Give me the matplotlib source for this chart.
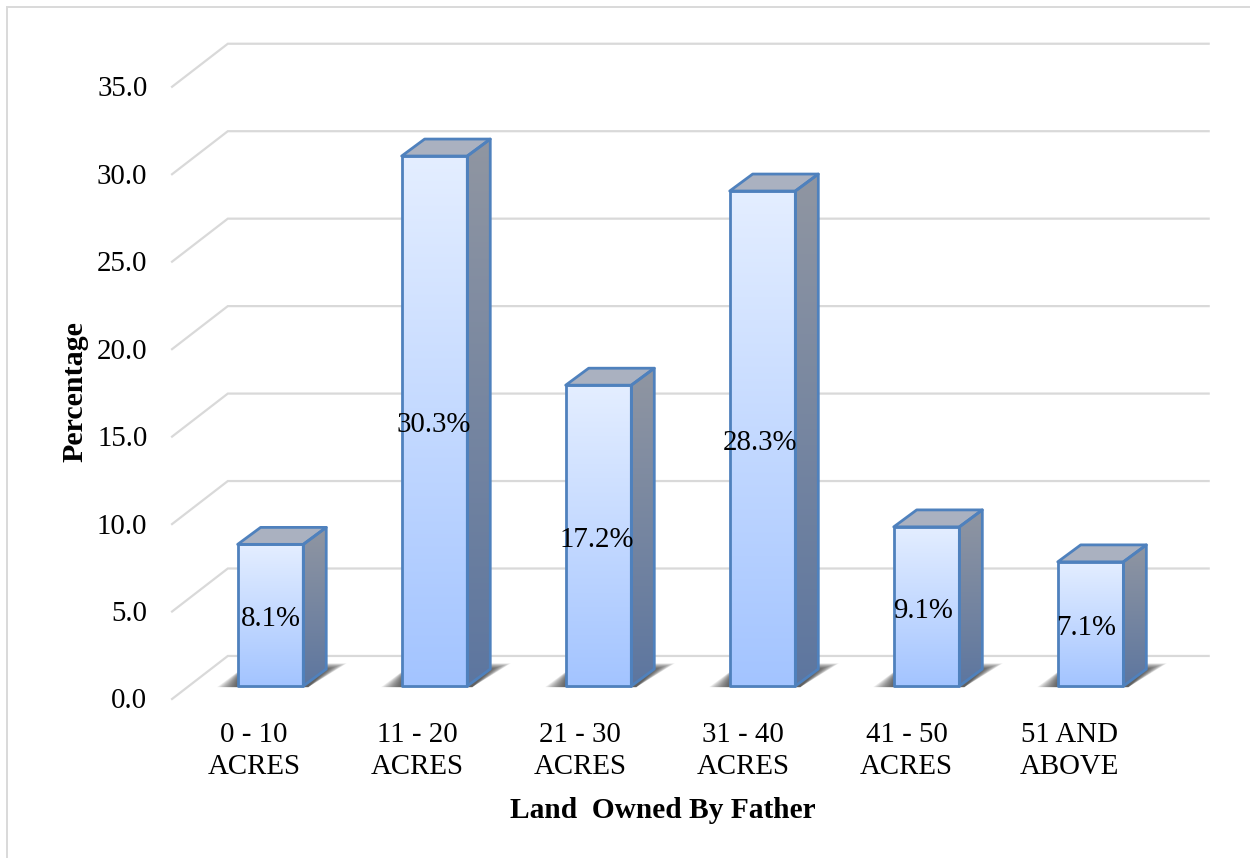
import numpy as np
import matplotlib
matplotlib.use('Agg')
import matplotlib.pyplot as plt
from matplotlib.colors import LinearSegmentedColormap
from matplotlib.lines import Line2D
from matplotlib.patches import Polygon

categories = ['0 - 10\nACRES', '11 - 20\nACRES', '21 - 30\nACRES',
              '31 - 40\nACRES', '41 - 50\nACRES', '51 AND\nABOVE']
percentages = [8.1, 30.3, 17.2, 28.3, 9.1, 7.1]
y_ticks = [0, 5, 10, 15, 20, 25, 30, 35]

plt.rcParams['font.family'] = ['Liberation Serif', 'DejaVu Serif']

# box sizes, in data units (one category = 164 px, one percent = 17.49 px)
BAR_W = 0.40
DX, DY = 0.14, 0.97
FLOOR_FRONT, FLOOR_BACK = -0.74, 1.72
WALL_LEFT, WALL_RIGHT, WALL_X_FRONT = -0.26, 5.72, -0.60
TEXT_STEP = 0.9945

EDGE = '#4f81bd'
GRID = '#d9d9d9'

face_cmap = LinearSegmentedColormap.from_list('face', ['#e4eeff', '#a3c4ff'])
side_cmap = LinearSegmentedColormap.from_list('side', ['#9096a2', '#5d769f'])

fig = plt.figure(figsize=(12.5, 8.58), dpi=100)
ax = fig.add_axes([0, 0, 1, 1])
ax.axis('off')


def gradient_fill(points, cmap, zorder):
    # vertical gradient clipped to a polygon
    xs = [p[0] for p in points]
    ys = [p[1] for p in points]
    grad = np.linspace(0, 1, 256).reshape(-1, 1)
    im = ax.imshow(grad, cmap=cmap, aspect='auto', origin='upper', zorder=zorder,
                   extent=[min(xs), max(xs), min(ys), max(ys)], interpolation='bilinear')
    clip = Polygon(points, closed=True, transform=ax.transData, facecolor='none', edgecolor='none')
    ax.add_patch(clip)
    im.set_clip_path(clip)


# back wall and floor lines
for v in y_ticks:
    ax.plot([WALL_X_FRONT, WALL_LEFT, WALL_RIGHT],
            [v + FLOOR_FRONT, v + FLOOR_BACK, v + FLOOR_BACK],
            color=GRID, lw=1.6, zorder=1, solid_joinstyle='miter')
    ax.text(WALL_X_FRONT - 0.15, v + FLOOR_FRONT - 0.14, f'{v:.1f}',
            ha='right', va='center', fontsize=20.8, color='black')

for i, (cat, val) in enumerate(zip(categories, percentages)):
    left, right = i - BAR_W / 2, i + BAR_W / 2

    # soft shadow on the floor, stacked translucent layers
    for k in range(16):
        t = k / 15
        spread = 1 - t
        shadow = [(left - 0.125 * spread, -0.06),
                  (left + 0.02, 0.85 + 0.1 * spread),
                  (left + 0.2, 1.30 - 0.35 * t),
                  (right + DX + 0.125 * spread, 1.30 - 0.35 * t),
                  (right + 0.03, -0.06)]
        ax.add_patch(Polygon(shadow, closed=True, facecolor='#2c2c2c', edgecolor='none',
                             alpha=0.08, zorder=2))

    face = [(left, 0), (right, 0), (right, val), (left, val)]
    side = [(right, 0), (right + DX, DY), (right + DX, val + DY), (right, val)]
    top = [(left, val), (right, val), (right + DX, val + DY), (left + DX, val + DY)]

    gradient_fill(face, face_cmap, 3)
    gradient_fill(side, side_cmap, 3)
    ax.add_patch(Polygon(top, closed=True, facecolor='#aab1c0', edgecolor='none', zorder=3))
    for poly in (side, top, face):
        ax.add_patch(Polygon(poly, closed=True, facecolor='none', edgecolor=EDGE,
                             lw=2.0, joinstyle='round', zorder=4))

    ax.text(i * TEXT_STEP, val / 2 - 0.24, f'{val}%', ha='center', va='center',
            fontsize=20.8, color='black', zorder=5)
    ax.text(i * TEXT_STEP - 0.10, -3.72, cat, ha='center', va='center', fontsize=20.8,
            linespacing=1.3, color='black')

ax.text(2.39, -7.14, 'Land  Owned By Father', ha='center', va='center',
        fontsize=21.2, fontweight='bold', color='black')
ax.text(-1.195, 16.82, 'Percentage', ha='center', va='center', rotation=90,
        fontsize=21.6, fontweight='bold', color='black')

# chart area border, top and left only
ax.add_line(Line2D([0.0056, 0.0056, 1.0], [0.0, 0.9915, 0.9915], transform=ax.transAxes,
                   color=GRID, lw=1.4, solid_joinstyle='miter', zorder=0))

ax.set_xlim(-1.649, 5.972)
ax.set_ylim(-9.83, 39.22)

plt.savefig('out.png', dpi=100)
plt.close()
